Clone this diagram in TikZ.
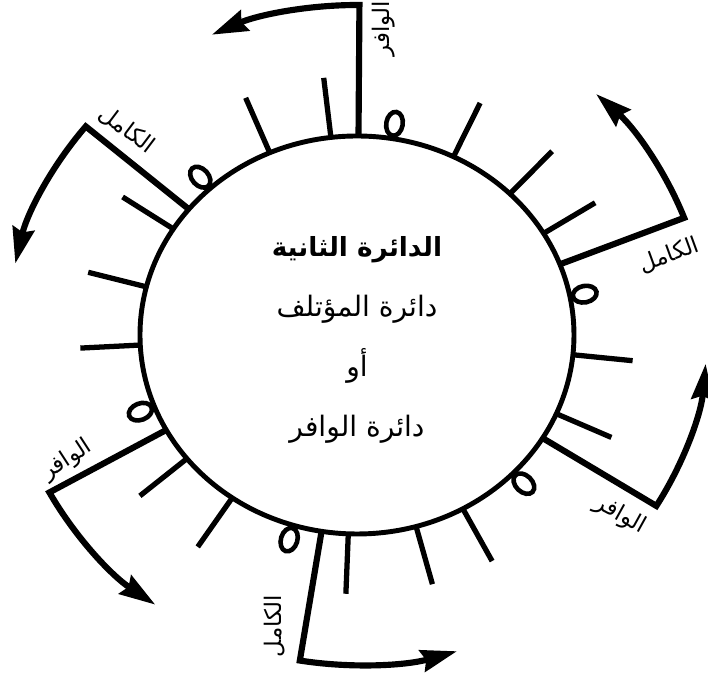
\documentclass[tikz,border=0pt]{standalone}
\usepackage{fontspec}
\usetikzlibrary{arrows.meta,shapes.geometric}
\newfontfamily\arabicfont[Script=Arabic]{DejaVu Sans}
\TeXXeTstate=1
\newcommand{\artext}[1]{\beginR #1\endR}

\begin{document}
\begin{tikzpicture}[
  >={Stealth[length=0.72cm,width=0.44cm,inset=0.08cm]},
  rim/.style={line width=2.8pt},
  spoke/.style={line width=3pt},
  bracket/.style={line width=3.5pt,line join=miter},
  zero/.style={ellipse,draw,line width=2.6pt,minimum width=0.48cm,minimum height=0.33cm,inner sep=0pt},
  metre/.style={font=\arabicfont\fontsize{13}{15}\selectfont,inner sep=1pt},
]
\useasboundingbox (-7.14,-6.76) rectangle (7.02,6.7);

% --- the circle and its marks ---
\draw[rim] (0,0) ellipse[x radius=4.34cm, y radius=3.98cm];
\foreach \t in {63.6,45.2,30.7,-5.7,-23.3,-60.8,-74.2,-92.3,-125.1,-141.6,182.9,166,147.8,113.7,96.9}
  \draw[spoke] (\t:4.34cm and 3.98cm) -- (\t:5.54cm and 5.18cm);
\foreach \t/\n in {80.7/1,11/2,-44/3,-107/4,-159/5,132.5/6}
  \node[zero,rotate=\t] (zero\n) at (\t:4.64cm and 4.28cm) {};

% --- title ---
\node[font=\arabicfont\fontsize{16}{34}\selectfont,align=center] (title) at (0,-0.1)
  {{\fontsize{15}{34}\selectfont\bfseries\artext{الدائرة الثانية}}\\ \artext{دائرة المؤتلف}\\ \artext{أو}\\ \artext{دائرة الوافر}};

% --- where each metre starts ---
\coordinate (topin)  at (89.6:4.34cm and 3.98cm);
\coordinate (topout) at (89.6:7cm and 6.6cm);
\draw[bracket,->] (topin) -- (topout) arc[start angle=89.6, end angle=114.5, x radius=7cm, y radius=6.6cm];
\node[metre,rotate=90] (wafir1) at (0.54,6.12) {\artext{الوافر}};

\coordinate (ulin)  at (140.8:4.34cm and 3.98cm);
\coordinate (ulout) at (140.8:7cm and 6.6cm);
\draw[bracket,->] (ulin) -- (ulout) arc[start angle=140.8, end angle=167.5, x radius=7cm, y radius=6.6cm];
\node[metre,rotate=-37] (kamil1) at (-4.6,4.1) {\artext{الكامل}};

\coordinate (urin)  at (20.8:4.34cm and 3.98cm);
\coordinate (urout) at (20.8:7cm and 6.6cm);
\draw[bracket,->] (urin) -- (urout) arc[start angle=20.8, end angle=46.9, x radius=7cm, y radius=6.6cm];
\node[metre,rotate=20] (kamil2) at (6.24,1.6) {\artext{الكامل}};

\coordinate (lrin)  at (-31.2:4.34cm and 3.98cm);
\coordinate (lrout) at (-31.2:7cm and 6.6cm);
\draw[bracket,->] (lrin) -- (lrout) arc[start angle=-31.2, end angle=-5, x radius=7cm, y radius=6.6cm];
\node[metre,rotate=-29] (wafir2) at (5.26,-3.6) {\artext{الوافر}};

\coordinate (llin)  at (-151.5:4.34cm and 3.98cm);
\coordinate (llout) at (-151.5:7cm and 6.6cm);
\draw[bracket,->] (llin) -- (llout) arc[start angle=-151.5, end angle=-125.2, x radius=7cm, y radius=6.6cm];
\node[metre,rotate=33] (wafir3) at (-5.8,-2.5) {\artext{الوافر}};

\coordinate (botin)  at (-99.4:4.34cm and 3.98cm);
\coordinate (botout) at (-99.4:7cm and 6.6cm);
\draw[bracket,->] (botin) -- (botout) arc[start angle=-99.4, end angle=-73.4, x radius=7cm, y radius=6.6cm];
\node[metre,rotate=90] (kamil3) at (-1.64,-5.82) {\artext{الكامل}};
\end{tikzpicture}
\end{document}
